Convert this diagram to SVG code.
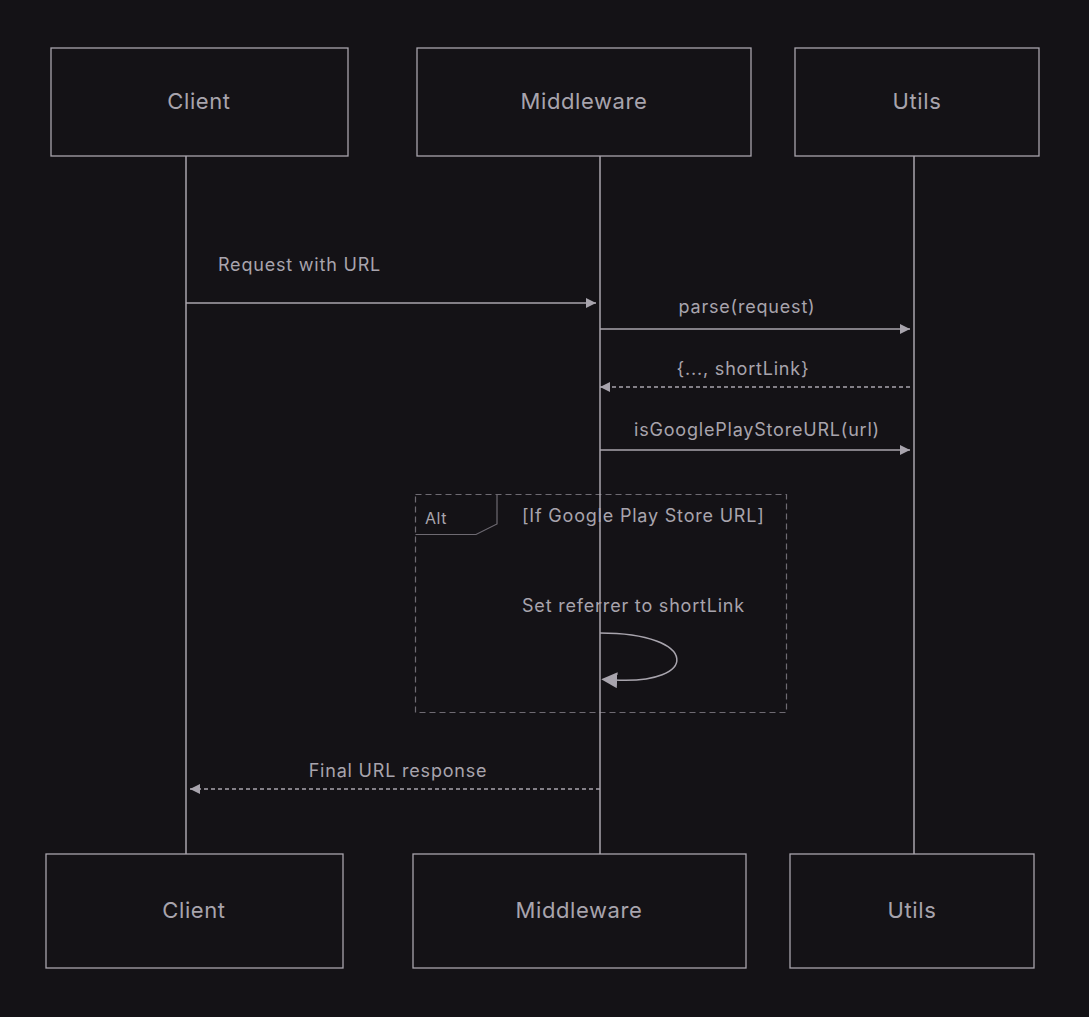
<svg xmlns="http://www.w3.org/2000/svg" width="1089" height="1017" viewBox="0 0 1089 1017">
<style>
.box{fill:#141216;stroke:#a8a4ad;stroke-width:1.3}
.t{font-family:Inter,"Liberation Sans",sans-serif;fill:#a8a4ad;font-size:18px;letter-spacing:0.8px}
.nt{font-family:Inter,"Liberation Sans",sans-serif;fill:#a8a4ad;font-size:22px;letter-spacing:0.6px;text-anchor:middle}
.ln{stroke:#a8a4ad;stroke-width:1.5;fill:none}
.d{stroke-dasharray:4,3}
</style>
<defs>
<marker id="a" viewBox="0 0 10 10" refX="10" refY="5" markerWidth="10" markerHeight="10" markerUnits="userSpaceOnUse" orient="auto"><path d="M0,0L10,5L0,10z" fill="#a8a4ad"/></marker>
<marker id="b" viewBox="0 0 10 10" refX="2" refY="5" markerWidth="16" markerHeight="16" markerUnits="userSpaceOnUse" orient="auto"><path d="M0,5L10,0L10,10z" fill="#a8a4ad" transform="rotate(180 5 5)"/></marker>
</defs>
<rect width="1089" height="1017" fill="#141216"/>
<g id="alt">
<rect x="415.5" y="494.5" width="371" height="218" fill="none" stroke="#6e6a72" stroke-width="1.2" stroke-dasharray="6,4"/>
<path d="M415.5,534.5H476L497,524V494.5" fill="none" stroke="#6e6a72" stroke-width="1.2"/>
<text class="t" x="425" y="524" style="font-size:16px;letter-spacing:0.5px">Alt</text>
<text class="t" x="522" y="522">[If Google Play Store URL]</text>
</g>
<g id="connectors">
<line class="ln" x1="186" y1="156" x2="186" y2="854"/>
<line class="ln" x1="600" y1="156" x2="600" y2="854"/>
<line class="ln" x1="914" y1="156" x2="914" y2="854"/>
<line class="ln" x1="186" y1="303" x2="596" y2="303" marker-end="url(#a)"/>
<text class="t" x="218" y="271">Request with URL</text>
<line class="ln" x1="600" y1="329" x2="910" y2="329" marker-end="url(#a)"/>
<text class="t" x="747" y="313" text-anchor="middle">parse(request)</text>
<line class="ln d" x1="910" y1="387" x2="600" y2="387" marker-end="url(#a)"/>
<text class="t" x="743" y="375" text-anchor="middle">{..., shortLink}</text>
<line class="ln" x1="600" y1="450" x2="910" y2="450" marker-end="url(#a)"/>
<text class="t" x="757" y="436" text-anchor="middle">isGooglePlayStoreURL(url)</text>
<text class="t" x="522" y="612">Set referrer to shortLink</text>
<path class="ln" stroke-width="2.5" d="M600,633C700,633 700,685 614,680" marker-end="url(#b)"/>
<line class="ln d" x1="600" y1="789" x2="190" y2="789" marker-end="url(#a)"/>
<text class="t" x="398" y="777" text-anchor="middle">Final URL response</text>
</g>
<g id="client-top"><rect class="box" x="51" y="48" width="297" height="108"/><text class="nt" x="199" y="109">Client</text></g>
<g id="middleware-top"><rect class="box" x="417" y="48" width="334" height="108"/><text class="nt" x="584" y="109">Middleware</text></g>
<g id="utils-top"><rect class="box" x="795" y="48" width="244" height="108"/><text class="nt" x="917" y="109">Utils</text></g>
<g id="client-bottom"><rect class="box" x="46" y="854" width="297" height="114"/><text class="nt" x="194" y="918">Client</text></g>
<g id="middleware-bottom"><rect class="box" x="413" y="854" width="333" height="114"/><text class="nt" x="579" y="918">Middleware</text></g>
<g id="utils-bottom"><rect class="box" x="790" y="854" width="244" height="114"/><text class="nt" x="912" y="918">Utils</text></g>
</svg>
